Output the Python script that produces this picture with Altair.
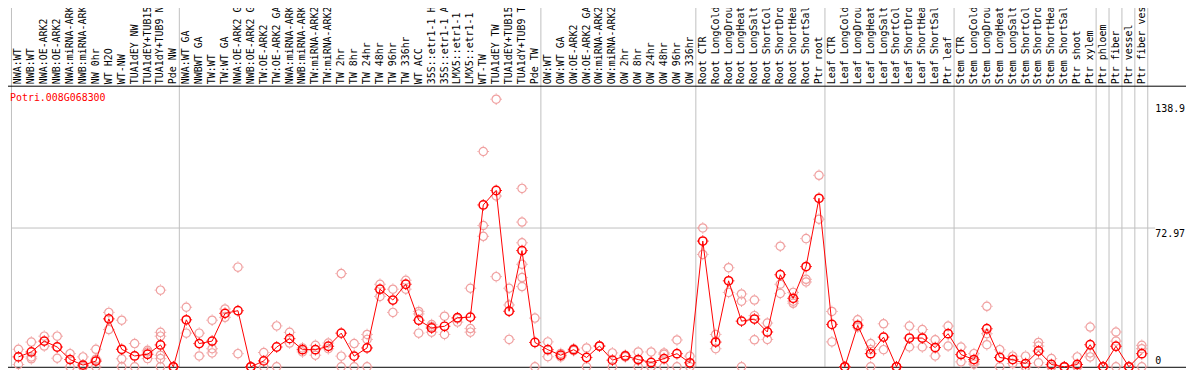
import json
import altair as alt
import pandas as pd

gene = "Potri.008G068300"

samples = [
    "NWA:WT", "NWB:WT", "NWA:OE-ARK2", "NWB:OE-ARK2", "NWA:miRNA-ARK2", "NWB:miRNA-ARK2",
    "NW 0hr", "WT H2O", "WT-NW", "TUA1dEY NW", "TUA1dEY+TUB15", "TUA1dY+TUB9 NW", "Pde NW",
    "NWA:WT GA", "NWBWT GA", "TW:WT", "TW:WT GA", "NWA:OE-ARK2 GA", "NWB:OE-ARK2 GA",
    "TW:OE-ARK2", "TW:OE-ARK2 GA", "NWA:miRNA-ARK2", "NWB:miRNA-ARK2", "TW:miRNA-ARK2",
    "TW:miRNA-ARK2", "TW 2hr", "TW 8hr", "TW 24hr", "TW 48hr", "TW 96hr", "TW 336hr",
    "WT ACC", "35S::etr1-1 H2", "35S::etr1-1 AC", "LMX5::etr1-1 H", "LMX5::etr1-1 A",
    "WT-TW", "TUA1dEY TW", "TUA1dEY+TUB15", "TUA1dY+TUB9 TW", "Pde TW",
    "OW:WT", "OW:WT GA", "OW:OE-ARK2", "OW:OE-ARK2 GA", "OW:miRNA-ARK2", "OW:miRNA-ARK2",
    "OW 2hr", "OW 8hr", "OW 24hr", "OW 48hr", "OW 96hr", "OW 336hr",
    "Root CTR", "Root LongCold", "Root LongDroug", "Root LongHeat", "Root LongSalt",
    "Root ShortCold", "Root ShortDrou", "Root ShortHeat", "Root ShortSalt", "Ptr root",
    "Leaf CTR", "Leaf LongCold", "Leaf LongDroug", "Leaf LongHeat", "Leaf LongSalt",
    "Leaf ShortCold", "Leaf ShortDrou", "Leaf ShortHeat", "Leaf ShortSalt", "Ptr leaf",
    "Stem CTR", "Stem LongCold", "Stem LongDroug", "Stem LongHeat", "Stem LongSalt",
    "Stem ShortCold", "Stem ShortDrou", "Stem ShortHeat", "Stem ShortSalt", "Ptr shoot",
    "Ptr xylem", "Ptr phloem", "Ptr fiber", "Ptr vessel", "Ptr fiber vess",
]

means = [
    5.2, 7.8, 13.5, 10.4, 3.8, 0.9, 3.0, 25.2, 9.2, 5.7, 6.6, 11.5, 0.0,
    24.7, 12.2, 13.5, 28.1, 29.5, 0.0, 3.1, 10.4, 14.8, 9.0, 9.0, 10.8, 17.7, 5.6,
    9.9, 40.8, 35.1, 43.4, 24.5, 20.4, 21.3, 25.8, 26.1, 85.1, 92.7, 29.2, 61.1, 12.8,
    9.0, 6.1, 9.0, 4.9, 10.9, 3.5, 5.7, 3.8, 2.3, 4.3, 6.9, 2.1,
    66.1, 13.0, 45.2, 24.0, 25.1, 18.3, 48.4, 36.0, 52.7, 88.6,
    22.3, 0.0, 21.8, 6.9, 15.6, 0.0, 15.1, 15.1, 10.1, 17.4,
    6.4, 3.8, 20.0, 4.9, 3.8, 1.7, 8.3, 1.2, 0.0, 1.2, 11.6,
    0.0, 10.8, 0.0, 6.9,
]

replicates = [
    [9.2, 1.2], [13.0, 5.2, 4.2], [16.1, 10.9], [16.1, 4.5], [6.9, 0.0], [5.2, 0.0, 0.0],
    [9.2, 4.0, 0.0], [28.6, 19.6], [24.5, 4.2, 0.0], [12.2, 0.0], [8.7, 7.8, 4.3],
    [40.3, 18.1, 16.1, 6.1, 4.3, 0.0], [0.0, 0.0],
    [31.3, 17.7], [17.7, 5.7], [24.5, 9.5, 7.3], [30.4, 26.0], [52.4, 6.9], [0.0, 0.0],
    [7.5, 0.0], [21.5, 0.0], [18.1, 12.5], [9.9, 7.8], [11.3, 6.1], [12.5, 9.5],
    [49.0, 5.6, 0.0], [12.2, 0.0], [17.0, 14.4, 0.0], [43.4, 37.0], [40.8, 28.6],
    [45.5, 40.8], [29.1, 27.8, 17.7], [22.2, 21.2, 18.2], [26.6, 17.0], [25.3, 23.5],
    [41.3, 20.1, 18.2], [113.2, 74.3, 68.6], [140.7, 89.8, 47.4], [41.3, 32.5, 14.4],
    [93.8, 76.1, 65.2, 53.9, 46.9, 42.2], [25.6, 0.0],
    [13.1, 5.3], [7.0, 5.2], [9.5, 8.5], [9.9, 0.0], [10.9, 10.9], [7.3, 0.0], [6.1, 5.2],
    [7.8, 3.5, 0.0], [7.8, 0.0, 0.0], [7.3, 6.6, 0.0], [14.1, 0.0], [5.6, 0.0],
    [73.0, 59.1], [17.0, 9.5], [52.1, 39.1], [38.3, 34.5, 0.0], [35.1, 26.9, 14.2],
    [23.0, 14.4], [63.4, 43.4, 38.6], [39.1, 34.5, 33.4], [67.4, 46.0, 44.6], [100.7, 77.6],
    [29.1, 13.1], [0.0, 0.0], [24.7, 20.9], [12.2, 9.0, 0.0], [22.6, 9.0], [0.0, 0.0],
    [21.4, 10.4], [19.6, 10.4], [14.2, 5.7], [21.4, 10.9],
    [10.4, 2.6], [6.9, 2.6, 1.4], [31.8, 17.4, 11.6], [9.0, 0.0], [5.6, 1.7], [5.6, 0.0, 0.0],
    [12.8, 10.9, 2.1], [4.3, 0.0, 0.0], [0.0, 0.0], [5.2, 0.0, 0.0], [20.9, 7.3, 5.2],
    [0.0, 0.0], [18.3, 13.5, 0.0], [0.0, 0.0], [11.3, 9.5, 0.0],
]

group_starts = [0, 13, 41, 53, 63, 73, 84, 85, 86, 87]
grid_values = [72.97]
ytick_values = [72.97, 138.9]
ytick_zero = [0]

W, H = 1144, 283
YMAX = 147.8
FONT = "DejaVu Sans Mono"
RED = "#ff0000"
PALE = "#f0a0a0"
GRAY = "#c0c0c0"
TICKS = "M0,-1.12L0,-1.4M0,1.12L0,1.4M-1.12,0L-1.4,0M1.12,0L1.4,0"

n = len(samples)
df_mean = pd.DataFrame({"idx": list(range(n)), "value": means})
df_rep = pd.DataFrame(
    [{"idx": i, "value": v} for i, reps in enumerate(replicates) for v in reps]
)
df_sep = pd.DataFrame({"idx": group_starts})
df_end = pd.DataFrame({"idx": [n - 1]})

xs = alt.Scale(type="band", domain=list(range(n)), paddingInner=0, paddingOuter=0)
ys = alt.Scale(domain=[0, YMAX], nice=False, zero=True)

label_expr = json.dumps(samples) + "[datum.value]"
x_axis = alt.Axis(
    orient="top", labelAngle=270, labelAlign="left", labelBaseline="middle",
    labelExpr=label_expr, labelFont=FONT, labelFontSize=10, labelColor="black",
    labelPadding=2, ticks=False, domain=False, grid=False, title=None,
    labelLimit=0, labelOverlap=False,
)


def X(**kw):
    return alt.X("idx:O", scale=xs, axis=x_axis, **kw)


def Y(field="value:Q"):
    return alt.Y(field, scale=ys, axis=None)


seps = alt.Chart(df_sep).mark_rule(color=GRAY, strokeWidth=1, xOffset=-0.5).encode(
    x=X(bandPosition=0), y=alt.value(-85), y2=alt.value(H),
)
sep_end = alt.Chart(df_end).mark_rule(color=GRAY, strokeWidth=1, xOffset=-0.5).encode(
    x=X(bandPosition=1), y=alt.value(-85), y2=alt.value(H),
)
grid = alt.Chart(pd.DataFrame({"v": grid_values})).mark_rule(color=GRAY, strokeWidth=1).encode(
    y=Y("v:Q"), x=alt.value(0), x2=alt.value(W + 7),
)
hlines = alt.Chart(pd.DataFrame({"yy": [0.5, H + 0.5]})).mark_rule(
    color="black", strokeWidth=1
).encode(
    y=alt.Y("yy:Q", scale=None, axis=None),
    x=alt.value(-12), x2=alt.value(W + 38),
)

rep_pts = alt.Chart(df_rep).mark_point(
    shape="circle", size=70, filled=False, color=PALE, strokeWidth=1.2, opacity=1
).encode(x=X(), y=Y())
rep_ticks = alt.Chart(df_rep).mark_point(
    shape=TICKS, size=70, filled=False, color=PALE, strokeWidth=0.9, opacity=1
).encode(x=X(), y=Y())

line = alt.Chart(df_mean).mark_line(color=RED, strokeWidth=1).encode(x=X(), y=Y())
mean_pts = alt.Chart(df_mean).mark_point(
    shape="circle", size=70, filled=False, color=RED, strokeWidth=1.5, opacity=1
).encode(x=X(), y=Y())
mean_ticks = alt.Chart(df_mean).mark_point(
    shape=TICKS, size=70, filled=False, color=RED, strokeWidth=0.9, opacity=1
).encode(x=X(), y=Y())

title = alt.Chart(pd.DataFrame({"t": [gene]})).mark_text(
    color=RED, font=FONT, fontSize=10, align="left", baseline="top"
).encode(text="t:N", x=alt.value(-2), y=alt.value(7))

ylab = alt.Chart(pd.DataFrame({"v": ytick_values})).mark_text(
    color="black", font=FONT, fontSize=10, align="left", baseline="top", dy=1
).encode(y=Y("v:Q"), x=alt.value(W + 7), text="v:N")
ylab0 = alt.Chart(pd.DataFrame({"v": ytick_zero})).mark_text(
    color="black", font=FONT, fontSize=10, align="left", baseline="alphabetic", dy=-3
).encode(y=Y("v:Q"), x=alt.value(W + 7), text="v:N")

chart = alt.layer(
    seps, sep_end, grid, hlines, rep_pts, rep_ticks, line, mean_pts, mean_ticks, title, ylab, ylab0
).properties(
    width=W, height=H,
    autosize=alt.AutoSizeParams(type="none"),
    padding={"left": 4, "top": 77, "right": 38, "bottom": 2},
    background="white",
).configure_view(stroke=None)

chart.save("out.html", embed_options={"renderer": "svg", "actions": False})
